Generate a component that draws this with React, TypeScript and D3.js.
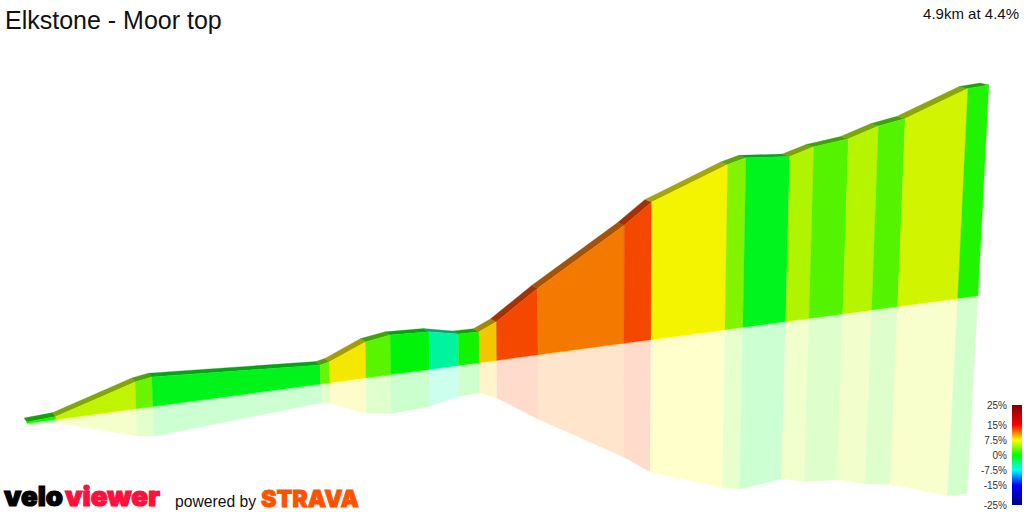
import React from "react";
import * as d3 from "d3";

const title = "Elkstone - Moor top";
const summary = "4.9km at 4.4%";
const distanceKm = [0, 0.149, 0.562, 0.648, 1.513, 1.561, 1.747, 1.874, 2.073, 2.224, 2.33, 2.42, 2.633, 3.076, 3.215, 3.596, 3.688, 3.909, 4.029, 4.203, 4.352, 4.486, 4.795, 4.9];
const gainM = [1.5, 3.1, 27.6, 30.4, 19.5, 21.5, 36.9, 40.5, 38.6, 32.2, 31.7, 39.5, 68.1, 120.8, 140.8, 169, 173.5, 169, 175.7, 179.2, 188.4, 192.5, 215, 215.8];
const gradePct = [0.8, 5.9, 3.3, -0.8, 3.3, 7.9, 2.8, -0.3, -4.9, 0.5, 8.9, 12.8, 11.3, 12.8, 7.5, 4, -0.9, 5.4, 2.6, 5.6, 2.6, 6.4, 1];
const legendTicks = [25, 15, 7.5, 0, -7.5, -15, -25];
const legendColors = ["#800000", "#ff0000", "#ffff00", "#00ff00", "#00ffff", "#0000ff", "#000080"];

const color = d3.scaleLinear<string>().domain(legendTicks).range(legendColors).interpolate(d3.interpolateRgb);
const baseX = d3.scaleLinear().domain([0, 4.9]).range([27, 978]);
const baseY = d3.scaleLinear().domain([0, 4.9]).range([423.5, 295.7]);
const heightPx = d3.scaleLinear().domain([0, 216]).range([0, 211]);
const legendY = d3.scaleLinear().domain([25, -25]).range([405, 505]);

type P = [number, number];
const lean = (x: number) => (x - 610) * (x > 610 ? 0.00014 : 0.00007);
const base = (i: number): P => [baseX(distanceKm[i]), baseY(distanceKm[i])];
const top = (i: number): P => {
  const [x, y] = base(i);
  const h = heightPx(gainM[i]);
  return [x + h * lean(x), y - h];
};
const back = (i: number): P => {
  const [x, y] = top(i);
  return [x - (3 + (x - 50) * 0.0062), y - (4 - (x - 50) * 0.0022)];
};
const refl = (i: number): P => {
  const [x, y] = base(i);
  const h = heightPx(gainM[i]);
  return [x - h * lean(x), y + h * (1 - Math.max(0, x - 100) * 0.00007)];
};
const path = (pts: P[]) => d3.line()(pts)! + "Z";
const wallColor = (g: number) => d3.rgb(color(g)).darker(0.12).formatHex();
const ridgeColor = (g: number) => d3.rgb(color(g)).darker(1.2).formatHex();
const reflColor = (g: number) => d3.interpolateRgb("#ffffff", color(g))(0.2);

const segments = gradePct.map((g, i) => ({ g, i }));

export default function App() {
  return (
    <svg width={1024} height={512} style={{ position: "absolute", left: 0, top: 0, background: "#fff" }} fontFamily="'Liberation Sans', Arial, sans-serif">
      <defs>
        <linearGradient id="legend" x1="0" y1="0" x2="0" y2="1">
          {legendTicks.map((t, k) => (
            <stop key={k} offset={(legendY(t) - 405) / 100} stopColor={legendColors[k]} />
          ))}
        </linearGradient>
      </defs>

      {segments.map(({ g, i }) => (
        <path key={"r" + i} d={path([base(i), base(i + 1), refl(i + 1), refl(i)])} fill={reflColor(g)} stroke={reflColor(g)} strokeWidth={0.3} />
      ))}
      {segments.map(({ g, i }) => (
        <path key={"t" + i} d={path([top(i), top(i + 1), back(i + 1), back(i)])} fill={ridgeColor(g)} stroke={ridgeColor(g)} strokeWidth={0.3} />
      ))}
      {segments.map(({ g, i }) => (
        <path key={"w" + i} d={path([base(i), base(i + 1), top(i + 1), top(i)])} fill={wallColor(g)} stroke={wallColor(g)} strokeWidth={0.3} />
      ))}

      <text x={5} y={28.5} fontSize={25} fill="#111">{title}</text>
      <text x={1019} y={18.5} fontSize={15} textAnchor="end" fill="#111">{summary}</text>

      <rect x={1012} y={405} width={10} height={100} fill="url(#legend)" />
      {legendTicks.map((t) => (
        <text key={t} x={1007} y={legendY(t) + 3.5} fontSize={10} textAnchor="end" fill="#333">{t + "%"}</text>
      ))}

      <text x={4} y={505.5} fontSize={27} fontWeight={900} fontFamily="Inter, 'Liberation Sans', sans-serif" fill="#000" stroke="#000" strokeWidth={1.2} textLength={59} lengthAdjust="spacingAndGlyphs">velo</text>
      <text x={65} y={505.5} fontSize={27} fontWeight={900} fontFamily="Inter, 'Liberation Sans', sans-serif" fill="#ff0f3c" stroke="#ff0f3c" strokeWidth={1.2} textLength={95} lengthAdjust="spacingAndGlyphs">viewer</text>
      <text x={175} y={507} fontSize={16} fill="#111" textLength={81} lengthAdjust="spacingAndGlyphs">powered by</text>
      <text x={261} y={507} fontSize={23} fontWeight={900} fontFamily="Inter, 'Liberation Sans', sans-serif" fill="#fc5200" stroke="#fc5200" strokeWidth={0.8} textLength={98} lengthAdjust="spacingAndGlyphs">STRAVA</text>
    </svg>
  );
}
